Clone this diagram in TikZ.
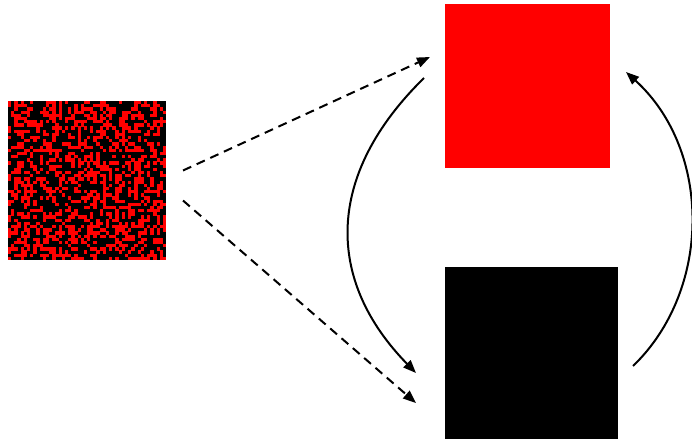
\documentclass[tikz,border=0pt]{standalone}
\usepackage{xcolor}
\usepackage{tikz}
\usetikzlibrary{arrows.meta,positioning,calc}

\definecolor{pure red}{RGB}{255,0,0}

\begin{document}
\begin{tikzpicture}[
    x=1pt,y=-1pt,
    >={Triangle[length=13pt,width=10pt]},
    guess/.style={->,line width=2pt,draw=black,dash pattern=on 9pt off 6pt},
    swap/.style={->,line width=2pt,draw=black},
    patch/.style={inner sep=0pt,outer sep=0pt,draw=none},
    noisy/.style={patch,fill=black,minimum width=158pt,minimum height=159pt},
    redbox/.style={patch,fill=pure red,minimum width=165pt,minimum height=164pt},
    blackbox/.style={patch,fill=black,minimum width=173pt,minimum height=172pt}
  ]
    \useasboundingbox (0,0) rectangle (692,442);

    % Noisy input and the two pure states.
    \node[noisy] (noise) at (87,180.5) {};
    \node[redbox] (red) at (527.5,86) {};
    \node[blackbox,below=99pt of red.south west,anchor=north west] (blk) {};

    % Random red cells on the black input.
    \pgfmathsetseed{4127}
    \begin{scope}
      \clip (noise.north west) rectangle (noise.south east);
      \foreach \i in {0,...,49}{
        \foreach \j in {0,...,49}{
          \pgfmathsetmacro\cell{rnd}
          \ifdim\cell pt<0.4pt
            \fill[pure red] ($(noise.north west)+(\i*3.16,\j*3.18)$)
              rectangle ++(3.3,3.3);
          \fi
        }
      }
    \end{scope}

    % Dashed guesses from the input.
    \draw[guess] ($(noise.east)+(17,-10)$) -- ($(red.west)+(-15,-29)$);
    \draw[guess] ($(noise.east)+(17,20)$) -- ($(blk.west)+(-29,50)$);

    % Swaps between the two states.
    \draw[swap] ($(red.west)+(-21,-8)$) .. controls (325,175) and (325,280)
      .. ($(blk.west)+(-29,20)$);
    \draw[swap] ($(blk.east)+(15,13)$) .. controls (712,290) and (712,150)
      .. ($(red.east)+(16,-14)$);
  \end{tikzpicture}
\end{document}
